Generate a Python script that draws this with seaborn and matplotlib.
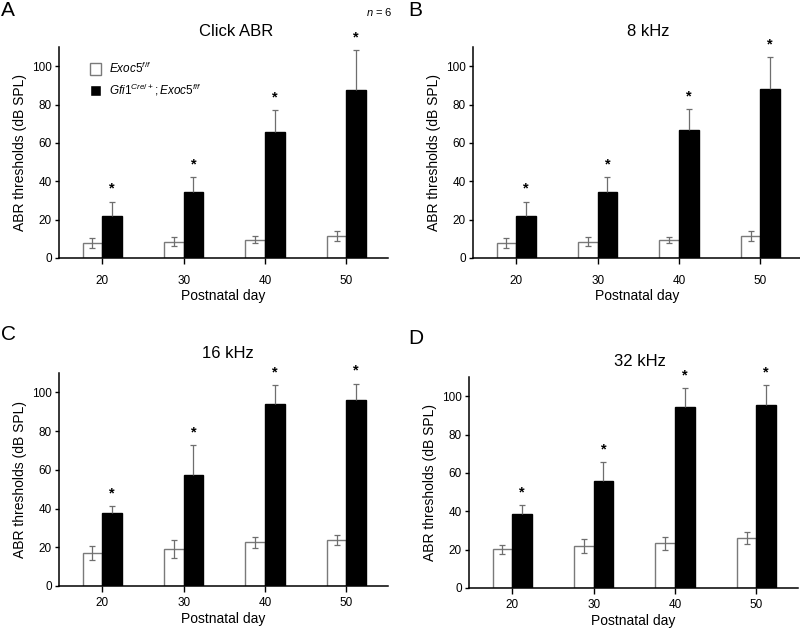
import numpy as np
import pandas as pd
import matplotlib
matplotlib.use("Agg")
import matplotlib.pyplot as plt
import seaborn as sns

sns.set_theme(style="ticks")
plt.rcParams['font.family'] = ['Liberation Sans', 'DejaVu Sans']
plt.rcParams['mathtext.fontset'] = 'custom'
plt.rcParams['mathtext.it'] = 'Liberation Sans:italic'
plt.rcParams['mathtext.rm'] = 'Liberation Sans'
for k in ('text.color', 'axes.labelcolor', 'xtick.color', 'ytick.color'):
    plt.rcParams[k] = 'black'

days = ["20", "30", "40", "50"]
genotypes = ["Exoc5 f/f", "Gfi1 Cre/+;Exoc5 f/f"]
legend_labels = [r"$\mathit{Exoc5}^{\mathit{f/f}}$",
                 r"$\mathit{Gfi1}^{\mathit{Cre/+}}\mathit{;Exoc5}^{\mathit{f/f}}$"]
panel_titles = ["Click ABR", "8 kHz", "16 kHz", "32 kHz"]
panel_letters = ["A", "B", "C", "D"]

# control (white) means and SE
ctrl_click = [8.0, 8.5, 9.5, 11.5]
ctrl_click_err = [2.6, 2.5, 1.8, 2.6]
ctrl_8k = [8.0, 8.5, 9.5, 11.5]
ctrl_8k_err = [2.6, 2.5, 1.6, 2.6]
ctrl_16k = [17.0, 19.2, 22.6, 23.6]
ctrl_16k_err = [3.7, 4.8, 2.8, 2.5]
ctrl_32k = [20.2, 22.0, 23.2, 26.2]
ctrl_32k_err = [2.3, 3.7, 3.5, 3.2]

# cKO (black) means and SE (upper only)
cko_click = [21.8, 34.3, 65.8, 87.7]
cko_click_err = [7.6, 7.8, 11.5, 20.5]
cko_8k = [22.0, 34.5, 66.5, 88.2]
cko_8k_err = [7.4, 7.8, 11.3, 16.6]
cko_16k = [37.8, 57.4, 94.0, 96.2]
cko_16k_err = [3.3, 15.2, 9.6, 8.3]
cko_32k = [38.6, 55.6, 94.5, 95.3]
cko_32k_err = [4.6, 10.0, 9.9, 10.3]

panels = [
    (ctrl_click, ctrl_click_err, cko_click, cko_click_err),
    (ctrl_8k, ctrl_8k_err, cko_8k, cko_8k_err),
    (ctrl_16k, ctrl_16k_err, cko_16k, cko_16k_err),
    (ctrl_32k, ctrl_32k_err, cko_32k, cko_32k_err),
]

W, H = 800, 629
fig = plt.figure(figsize=(8.0, 6.29), dpi=100)

# axes boxes in pixels: left, top, right, bottom
boxes = [(59, 47, 388, 258), (473, 47, 802, 258),
         (59, 373, 388, 586), (469, 377, 798, 588)]
title_pos = [(236, 32), (648, 32), (228, 353), (640, 362)]
letter_pos = [(1, 10), (408, 10), (1, 335), (408, 338)]
xtick_pad = [8, 8, 4, 4]

for i, (ctrl, ctrl_e, cko, cko_e) in enumerate(panels):
    l, t, r, b = boxes[i]
    ax = fig.add_axes([l / W, 1 - b / H, (r - l) / W, (b - t) / H])
    df = pd.DataFrame({
        "day": days * 2,
        "geno": [genotypes[0]] * 4 + [genotypes[1]] * 4,
        "val": list(ctrl) + list(cko),
    })
    sns.barplot(data=df, x="day", y="val", hue="geno", order=days,
                hue_order=genotypes, palette=["white", "black"],
                width=0.48, errorbar=None, ax=ax, legend=(i == 0),
                linewidth=1.0)
    for bar in ax.containers[0]:
        bar.set_edgecolor("#7a7a7a")
    for bar in ax.containers[1]:
        bar.set_edgecolor("black")
    xs0 = [p.get_x() + p.get_width() / 2 for p in ax.containers[0]]
    xs1 = [p.get_x() + p.get_width() / 2 for p in ax.containers[1]]
    ax.errorbar(xs0, ctrl, yerr=ctrl_e, fmt="none", ecolor="#6e6e6e",
                elinewidth=0.9, capsize=2, capthick=0.9, zorder=3)
    eb = ax.errorbar(xs1, cko, yerr=[np.zeros(4), cko_e], fmt="none",
                     ecolor="#6e6e6e", elinewidth=0.9, capsize=2,
                     capthick=0.9, zorder=3)
    eb[1][0].set_visible(False)
    for x, v, e in zip(xs1, cko, cko_e):
        ax.text(x, v + e + 3.0, "*", ha="center", va="bottom",
                fontsize=10.5, fontweight="bold")
    ax.set_xlim(-0.53, 3.51)
    ax.set_ylim(0, 110)
    ax.set_yticks([0, 20, 40, 60, 80, 100])
    ax.set_xlabel("Postnatal day", fontsize=10, labelpad=2)
    ax.set_ylabel("ABR thresholds (dB SPL)", fontsize=10, labelpad=4)
    ax.tick_params(axis="y", labelsize=8.5, length=3, width=1, pad=2)
    ax.tick_params(axis="x", labelsize=8.5, length=4, width=1,
                   pad=xtick_pad[i])
    sns.despine(ax=ax)
    for s in ("left", "bottom"):
        ax.spines[s].set_linewidth(1.1)
        ax.spines[s].set_color("black")
    if i == 0:
        handles, _ = ax.get_legend_handles_labels()
        handles[0].set_edgecolor("#7a7a7a")
        ax.legend(handles, legend_labels, loc="upper left",
                  bbox_to_anchor=(0.095, 0.935), frameon=False,
                  fontsize=8.5, handlelength=0.9, handleheight=1.1,
                  handletextpad=0.7, labelspacing=0.5, borderpad=0,
                  borderaxespad=0)
    tx, ty = title_pos[i]
    fig.text(tx / W, 1 - ty / H, panel_titles[i], ha="center",
             va="center", fontsize=12)
    lx, ly = letter_pos[i]
    fig.text(lx / W, 1 - ly / H, panel_letters[i], ha="left",
             va="center", fontsize=15)

fig.text(379 / W, 1 - 12 / H, r"$\mathit{n}$ = 6", ha="center",
         va="center", fontsize=8)

fig.savefig("out.png", dpi=100)
